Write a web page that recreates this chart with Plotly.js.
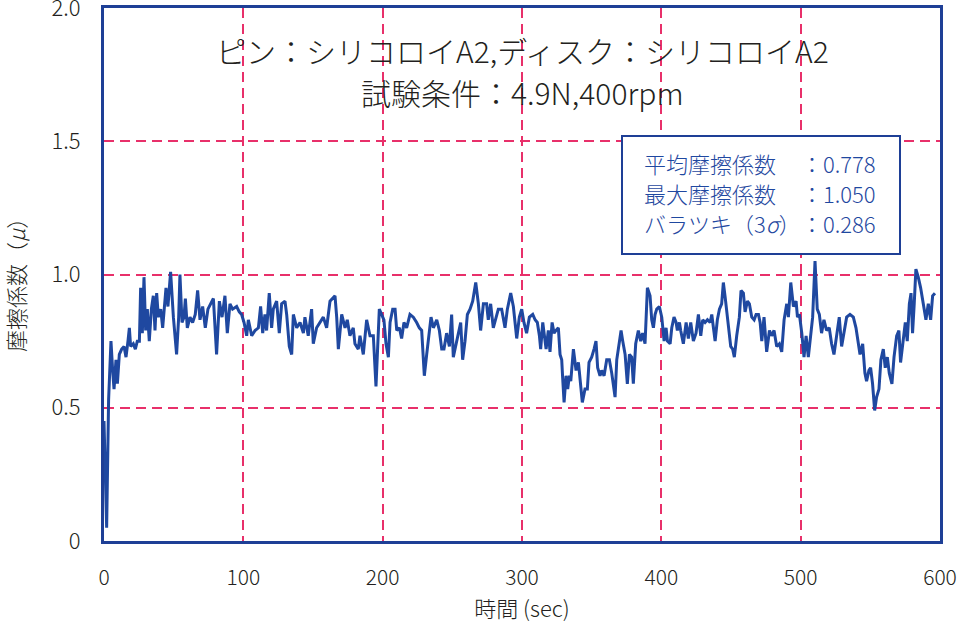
<!DOCTYPE html>
<html>
<head>
<meta charset="utf-8">
<script src="https://cdn.plot.ly/plotly-3.0.1.min.js"></script>
<style>
  body { margin: 0; background: #fff; }
  #chart { width: 962px; height: 627px; }
</style>
</head>
<body>
<div id="chart"></div>
<script>
// 時間 (sec) and 摩擦係数
var timeSec = [
  0, 1.9, 3.3, 5.0, 6.2, 7.2, 8.6, 9.6, 11.0, 12.7, 14.4, 15.8, 17.2, 18.2, 19.1, 21.0, 22.5, 23.9, 25.4, 26.3,
  27.5, 28.7, 29.9, 31.1, 32.5, 34.0, 35.4, 36.6, 37.8, 39.0, 40.7, 42.1, 44.5, 45.9, 47.8, 49.8, 52.1, 53.6, 54.5, 56.0,
  57.4, 58.4, 59.8, 61.7, 63.6, 65.5, 67.2, 68.9, 70.8, 72.7, 74.6, 76.5, 78.5, 80.8, 82.8, 84.7, 86.8, 88.5, 90.4, 92.3,
  95.2, 97.1, 98.8, 100.5, 102.4, 103.6, 106.0, 108.4, 110.8, 112.4, 113.9, 115.5, 116.7, 118.6, 120.3, 121.5, 123.9, 125.8, 127.5, 129.9,
  131.1, 133.0, 134.7, 135.9, 138.3, 140.7, 143.1, 144.2, 146.6, 149.0, 150.2, 152.6, 155.0, 157.4, 159.8, 162.2, 165.8, 167.0, 168.2, 170.6,
  173.0, 174.6, 176.5, 178.9, 180.1, 182.5, 183.7, 186.1, 188.5, 190.9, 193.3, 195.2, 197.6, 199.3, 200.9, 202.4, 204.1, 205.3, 207.2, 208.9,
  210.1, 212.0, 213.6, 215.3, 217.2, 219.6, 222.0, 224.4, 226.3, 228.0, 229.2, 229.9, 231.6, 233.5, 234.7, 236.4, 238.8, 240.7, 242.4, 244.0,
  245.9, 247.9, 249.5, 250.7, 252.6, 254.3, 256.0, 257.4, 259.1, 260.8, 262.7, 264.6, 266.8, 268.7, 270.3, 272.3, 274.6, 275.8, 277.5, 279.4,
  281.3, 283.0, 285.4, 287.8, 289.5, 291.9, 293.8, 296.2, 298.1, 299.8, 301.4, 303.3, 305.3, 307.7, 309.4, 311.0, 312.5, 313.4, 314.9, 316.1,
  317.3, 318.9, 320.1, 321.6, 323.0, 324.4, 326.1, 327.3, 328.5, 329.2, 330.2, 331.6, 332.8, 334.0, 335.0, 336.9, 338.8, 340.5, 342.1, 343.3,
  345.2, 346.9, 348.1, 350.0, 351.7, 353.1, 354.3, 356.0, 357.2, 358.9, 360.8, 362.7, 364.4, 366.8, 368.0, 369.6, 371.1, 372.3, 374.0, 375.6,
  377.1, 378.7, 379.9, 381.6, 383.5, 385.2, 386.6, 388.3, 390.0, 391.9, 393.1, 394.3, 395.5, 396.7, 398.6, 400.3, 402.0, 403.4, 404.4, 406.3,
  407.5, 409.1, 410.6, 411.5, 413.0, 413.9, 415.8, 417.8, 419.4, 421.1, 423.0, 424.9, 426.6, 428.3, 429.7, 431.4, 433.1, 435.0, 436.2, 437.4,
  438.6, 440.2, 441.7, 443.3, 444.5, 445.7, 446.9, 448.1, 449.8, 451.2, 452.4, 454.1, 456.0, 457.2, 458.9, 460.1, 461.8, 463.2, 464.9, 466.6,
  468.0, 469.7, 470.9, 472.1, 473.7, 475.6, 477.6, 479.2, 480.9, 482.8, 484.7, 486.4, 488.1, 490.0, 491.2, 492.9, 494.8, 496.7, 497.7, 499.1,
  500.8, 502.4, 503.9, 505.5, 506.7, 508.6, 510.3, 511.9, 513.4, 515.0, 516.7, 518.6, 520.5, 522.2, 523.9, 525.8, 527.7, 529.4, 531.1, 533.0,
  535.4, 537.8, 539.7, 541.4, 542.6, 544.5, 546.1, 547.3, 549.0, 550.2, 551.6, 553.1, 554.5, 556.2, 557.6, 559.3, 560.7, 562.2, 563.6, 565.5,
  567.0, 568.9, 570.5, 571.7, 573.7, 575.1, 576.5, 578.0, 579.2, 580.3, 581.5, 582.7, 584.4, 586.1, 588.0, 589.9, 591.6, 593.3, 594.7, 596.4
];
var friction = [
  0.45, 0.05, 0.53, 0.75, 0.64, 0.57, 0.68, 0.59, 0.70, 0.72, 0.73, 0.69, 0.75, 0.80, 0.73, 0.74, 0.72, 0.75, 0.75, 0.95,
  0.78, 0.99, 0.79, 0.87, 0.75, 0.87, 0.92, 0.79, 0.93, 0.84, 0.87, 0.80, 0.95, 0.88, 1.01, 0.84, 0.70, 0.84, 1.00, 0.82,
  0.84, 0.91, 0.80, 0.84, 0.82, 0.85, 0.94, 0.83, 0.88, 0.80, 0.87, 0.89, 0.91, 0.70, 0.90, 0.84, 0.92, 0.78, 0.89, 0.87,
  0.88, 0.86, 0.85, 0.82, 0.77, 0.83, 0.77, 0.79, 0.80, 0.88, 0.78, 0.85, 0.79, 0.93, 0.80, 0.87, 0.90, 0.78, 0.89, 0.90,
  0.85, 0.73, 0.70, 0.85, 0.80, 0.82, 0.78, 0.84, 0.77, 0.87, 0.74, 0.80, 0.82, 0.84, 0.80, 0.90, 0.92, 0.84, 0.72, 0.85,
  0.80, 0.83, 0.77, 0.80, 0.74, 0.72, 0.77, 0.70, 0.83, 0.77, 0.77, 0.58, 0.87, 0.85, 0.83, 0.74, 0.69, 0.82, 0.87, 0.87,
  0.79, 0.80, 0.76, 0.82, 0.80, 0.85, 0.84, 0.82, 0.80, 0.79, 0.70, 0.62, 0.70, 0.80, 0.84, 0.80, 0.83, 0.79, 0.72, 0.72,
  0.78, 0.73, 0.85, 0.69, 0.74, 0.78, 0.82, 0.68, 0.75, 0.85, 0.87, 0.90, 0.97, 0.89, 0.79, 0.89, 0.89, 0.83, 0.89, 0.80,
  0.84, 0.87, 0.87, 0.80, 0.87, 0.93, 0.88, 0.76, 0.84, 0.87, 0.82, 0.78, 0.84, 0.85, 0.83, 0.82, 0.77, 0.72, 0.82, 0.77,
  0.72, 0.79, 0.71, 0.82, 0.78, 0.79, 0.80, 0.70, 0.68, 0.61, 0.52, 0.62, 0.57, 0.62, 0.60, 0.72, 0.64, 0.67, 0.59, 0.52,
  0.57, 0.57, 0.67, 0.69, 0.72, 0.75, 0.65, 0.62, 0.64, 0.62, 0.68, 0.68, 0.63, 0.54, 0.68, 0.73, 0.79, 0.75, 0.70, 0.59,
  0.70, 0.69, 0.59, 0.74, 0.79, 0.75, 0.78, 0.74, 0.95, 0.92, 0.83, 0.80, 0.85, 0.87, 0.88, 0.84, 0.75, 0.80, 0.75, 0.74,
  0.80, 0.84, 0.82, 0.79, 0.82, 0.79, 0.74, 0.82, 0.76, 0.82, 0.75, 0.78, 0.85, 0.77, 0.83, 0.82, 0.83, 0.82, 0.85, 0.80,
  0.75, 0.83, 0.87, 0.89, 0.97, 0.92, 0.87, 0.80, 0.73, 0.72, 0.69, 0.77, 0.84, 0.94, 0.93, 0.86, 0.90, 0.89, 0.84, 0.83,
  0.85, 0.85, 0.82, 0.75, 0.84, 0.71, 0.79, 0.77, 0.79, 0.73, 0.74, 0.71, 0.83, 0.89, 0.84, 0.97, 0.88, 0.90, 0.84, 0.85,
  0.78, 0.69, 0.77, 0.69, 0.74, 0.84, 1.05, 0.87, 0.85, 0.78, 0.83, 0.79, 0.80, 0.74, 0.70, 0.77, 0.84, 0.73, 0.79, 0.84,
  0.85, 0.84, 0.80, 0.74, 0.70, 0.74, 0.63, 0.60, 0.64, 0.65, 0.59, 0.49, 0.54, 0.57, 0.68, 0.72, 0.65, 0.69, 0.63, 0.59,
  0.69, 0.77, 0.79, 0.67, 0.77, 0.82, 0.75, 0.89, 0.93, 0.78, 0.89, 1.02, 0.99, 0.95, 0.89, 0.83, 0.89, 0.83, 0.92, 0.93
];

var xTicks = [0, 100, 200, 300, 400, 500, 600];
var yTicks = [0, 0.5, 1.0, 1.5, 2.0];
var yTickText = ['0', '0.5', '1.0', '1.5', '2.0'];

var titleLines = ['ピン：シリコロイA2,ディスク：シリコロイA2', '試験条件：4.9N,400rpm'];
var statNames = ['平均摩擦係数', '最大摩擦係数', 'バラツキ（3<i>σ</i>）'];
var statValues = ['0.778', '1.050', '0.286'];

var frameBlue = '#1e3f96';
var gridPink = '#e8306a';
var textBlue = '#1f48a0';
var jpFont = '"Noto Sans CJK JP", "Noto Sans", sans-serif';

// pixel helpers for the 962x627 frame (plot area 104..940 x 8..541)
function px(x) { return (x - 104) / 836; }
function py(y) { return (541 - y) / 533; }

var trace = {
  x: timeSec,
  y: friction,
  type: 'scatter',
  mode: 'lines',
  line: { color: textBlue, width: 3 },
  hoverinfo: 'skip'
};

var annotations = [
  {
    xref: 'paper', yref: 'paper', x: px(15), y: py(280),
    text: '摩擦係数（<i>μ</i>）', textangle: -90, showarrow: false,
    xanchor: 'center', yanchor: 'middle',
    font: { size: 22, color: '#231f20' }
  }
];
var titleY = [50, 92];
titleLines.forEach(function (t, i) {
  annotations.push({
    xref: 'paper', yref: 'paper', x: px(522), y: py(titleY[i]),
    text: t, showarrow: false, xanchor: 'center', yanchor: 'middle',
    font: { size: 30, color: '#231f20' }
  });
});
var statY = [163, 193, 223];
statNames.forEach(function (n, i) {
  annotations.push({
    xref: 'paper', yref: 'paper', x: px(642), y: py(statY[i]),
    text: n, showarrow: false, xanchor: 'left', yanchor: 'middle',
    font: { size: 22, color: textBlue }
  });
  annotations.push({
    xref: 'paper', yref: 'paper', x: px(799), y: py(statY[i]),
    text: '：' + statValues[i], showarrow: false, xanchor: 'left', yanchor: 'middle',
    font: { size: 22, color: textBlue }
  });
});

var layout = {
  width: 962,
  height: 627,
  margin: { l: 104, r: 22, t: 8, b: 86 },
  paper_bgcolor: '#fff',
  plot_bgcolor: '#fff',
  showlegend: false,
  font: { family: jpFont, size: 21, color: '#231f20', weight: 300 },
  xaxis: {
    range: [0, 600],
    tickvals: xTicks,
    ticks: '',
    showline: true,
    mirror: true,
    linecolor: frameBlue,
    linewidth: 3,
    showgrid: true,
    gridcolor: gridPink,
    gridwidth: 2,
    griddash: '10px,6px',
    zeroline: false,
    tickfont: { size: 21 },
    ticklabelstandoff: 16,
    ticklabeloverflow: 'allow',
    title: { text: '時間 (sec)', font: { size: 22 }, standoff: 8 }
  },
  yaxis: {
    range: [0, 2.0],
    tickvals: yTicks,
    ticktext: yTickText,
    ticks: '',
    showline: true,
    mirror: true,
    linecolor: frameBlue,
    linewidth: 3,
    showgrid: true,
    gridcolor: gridPink,
    gridwidth: 2,
    griddash: '10px,6px',
    zeroline: false,
    tickfont: { size: 22 },
    ticklabelstandoff: 16,
    ticklabeloverflow: 'allow'
  },
  shapes: [
    {
      type: 'rect', xref: 'paper', yref: 'paper', layer: 'above',
      x0: px(622), x1: px(900), y0: py(254), y1: py(136),
      line: { color: frameBlue, width: 2 }, fillcolor: '#fff'
    }
  ],
  annotations: annotations
};

Plotly.newPlot('chart', [trace], layout, { displayModeBar: false, staticPlot: true });
</script>
</body>
</html>
